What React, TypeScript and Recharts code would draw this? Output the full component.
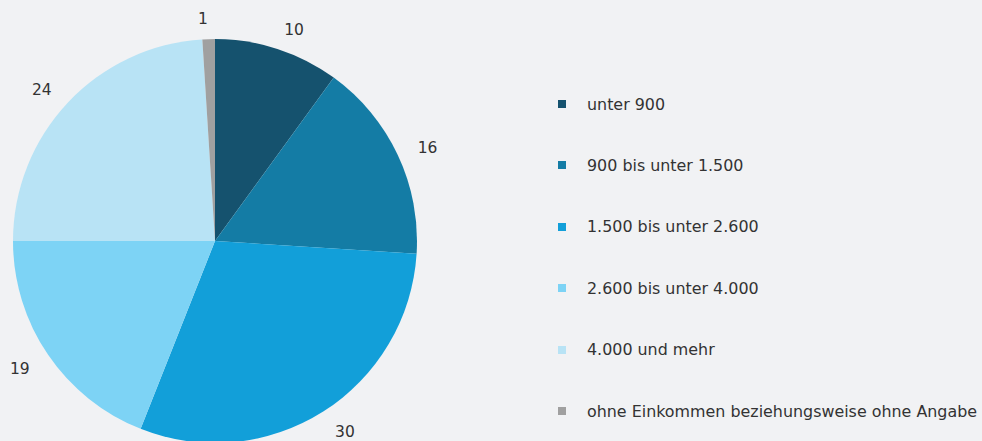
import React from "react";
import { PieChart, Pie, Cell, Legend } from "recharts";

const CATEGORIES = [
  "unter 900",
  "900 bis unter 1.500",
  "1.500 bis unter 2.600",
  "2.600 bis unter 4.000",
  "4.000 und mehr",
  "ohne Einkommen beziehungsweise ohne Angabe",
];
const VALUES = [10, 16, 30, 19, 24, 1];
const COLORS = ["#15526e", "#147ca5", "#129fd9", "#7dd3f5", "#b8e3f5", "#a0a0a0"];

const FONT = "Verdana, 'DejaVu Sans', sans-serif";
const RADIAN = Math.PI / 180;

const chartData = CATEGORIES.map((name, i) => ({
  name,
  value: VALUES[i],
  color: COLORS[i],
}));

function renderLabel({ cx, cy, midAngle, outerRadius, value }: any) {
  const r = outerRadius + 22;
  const x = cx + r * Math.cos(-midAngle * RADIAN);
  const y = cy + r * Math.sin(-midAngle * RADIAN) + 2;
  return (
    <text
      x={x}
      y={y}
      fill="#333"
      fontSize={15.5}
      fontFamily={FONT}
      textAnchor={x >= cx ? "start" : "end"}
      dominantBaseline="central"
    >
      {value}
    </text>
  );
}

function LegendContent() {
  return (
    <div style={{ fontFamily: FONT, fontSize: 15.9, color: "#333" }}>
      {chartData.map((d, i) => (
        <div
          key={d.name}
          style={{
            position: "absolute",
            left: 0,
            top: i * 61.4,
            height: 20,
            display: "flex",
            alignItems: "center",
            whiteSpace: "nowrap",
          }}
        >
          <span
            style={{
              display: "inline-block",
              width: 8,
              height: 8,
              background: d.color,
              marginRight: 21,
            }}
          />
          {d.name}
        </div>
      ))}
    </div>
  );
}

export default function App() {
  return (
    <div style={{ width: 982, height: 441, background: "#f1f2f4", overflow: "hidden" }}>
      <style>{"body{margin:0}"}</style>
      <PieChart width={982} height={441} margin={{ top: 0, right: 0, bottom: 0, left: 0 }}>
        <Pie
          data={chartData}
          dataKey="value"
          nameKey="name"
          cx={215}
          cy={241}
          outerRadius={202}
          startAngle={90}
          endAngle={-270}
          stroke="none"
          label={renderLabel}
          labelLine={false}
          isAnimationActive={false}
        >
          {chartData.map((d) => (
            <Cell key={d.name} fill={d.color} />
          ))}
        </Pie>
        <Legend
          content={<LegendContent />}
          wrapperStyle={{ position: "absolute", left: 558, top: 94, width: 424, height: 340 }}
        />
      </PieChart>
    </div>
  );
}
